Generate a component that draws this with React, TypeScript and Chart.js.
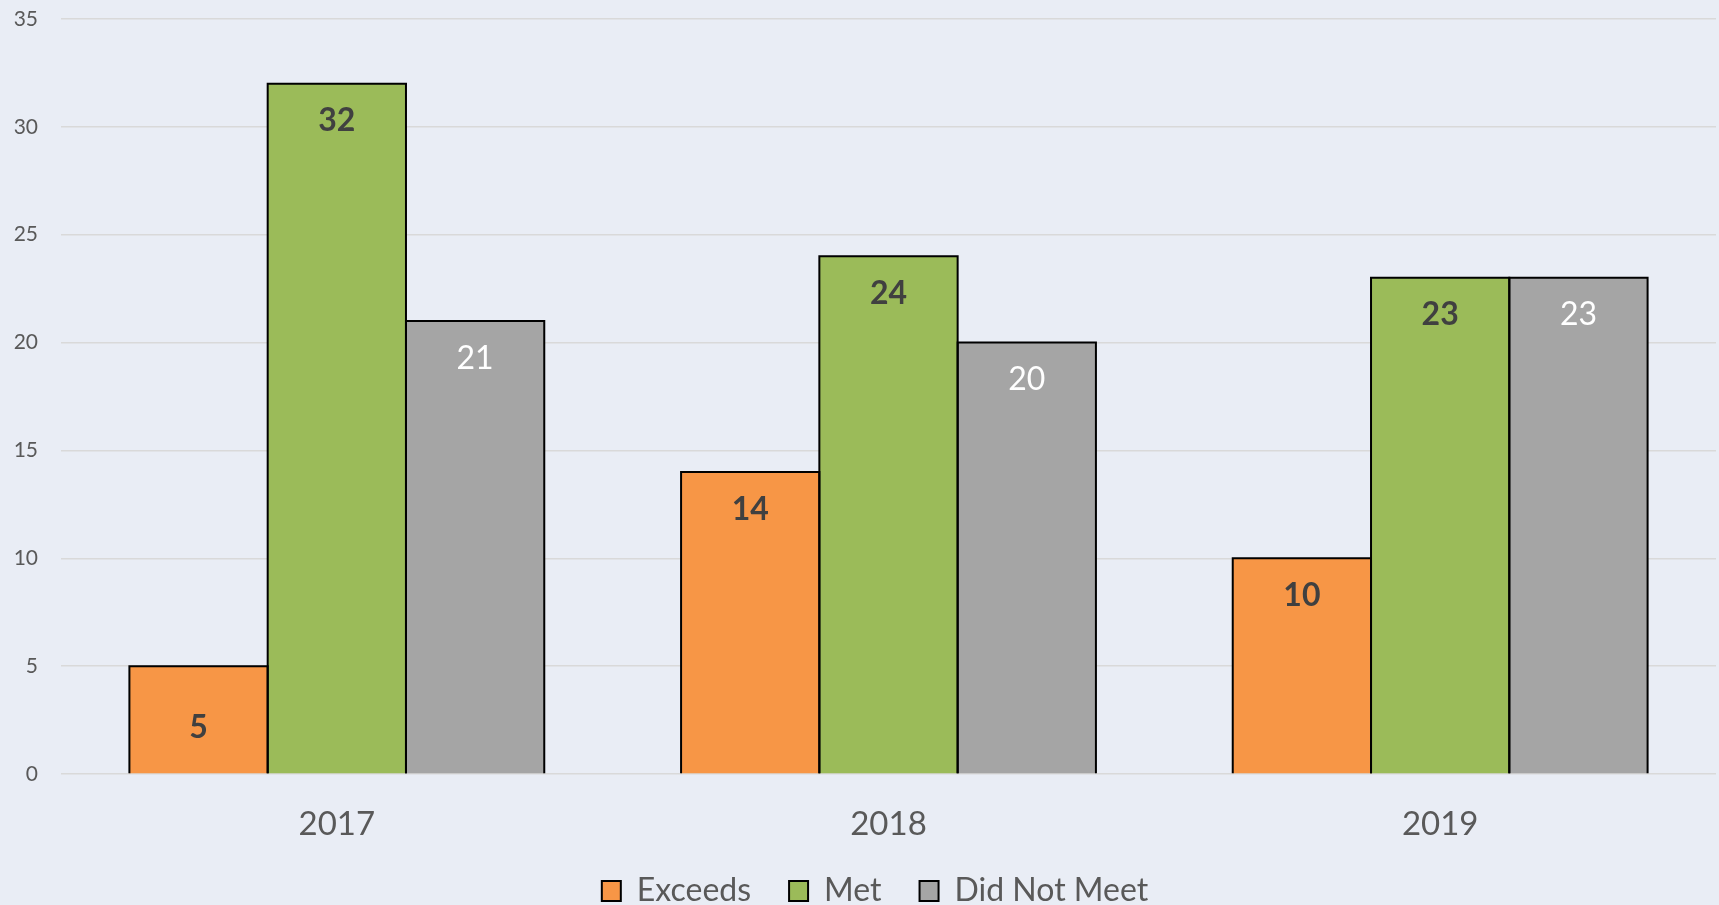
import React, { useEffect, useRef } from "react";
import { Chart, registerables } from "chart.js";

Chart.register(...registerables);

// ---- data ----
const categories = ["2017", "2018", "2019"];
const seriesNames = ["Exceeds", "Met", "Did Not Meet"];
const exceeds = [5, 14, 10];
const met = [32, 24, 23];
const didNotMeet = [21, 20, 23];
const yTicks = [0, 5, 10, 15, 20, 25, 30, 35];

// ---- styles ----
const BG = "#E9EDF5";
const FONT = "Lato, 'Open Sans', sans-serif";
const fills = ["#F79646", "#9BBB59", "#A5A5A5"];
const labelColors = ["#404040", "#404040", "#FFFFFF"];
const labelWeights = ["bold", "bold", "normal"];
const W = 1719;
const H = 922;

const barDecor = {
  id: "barDecor",
  afterLayout(chart: any) {
    if (chart.legend) {
      chart.legend.left += 17;
      chart.legend.right += 17;
    }
  },
  afterDatasetsDraw(chart: any) {
    const ctx = chart.ctx;
    ctx.save();
    ctx.strokeStyle = "#000000";
    ctx.lineWidth = 2;
    ctx.lineJoin = "miter";
    chart.data.datasets.forEach((_ds: any, i: number) => {
      const meta = chart.getDatasetMeta(i);
      meta.data.forEach((bar: any) => {
        const { x, y, base, width } = bar.getProps(["x", "y", "base", "width"], true);
        const l = x - width / 2;
        const r = x + width / 2;
        ctx.beginPath();
        ctx.moveTo(l, base);
        ctx.lineTo(l, y);
        ctx.lineTo(r, y);
        ctx.lineTo(r, base);
        ctx.stroke();
      });
    });
    const size = 32;
    const capH = size * 0.72;
    ctx.textAlign = "center";
    ctx.textBaseline = "alphabetic";
    chart.data.datasets.forEach((ds: any, i: number) => {
      const meta = chart.getDatasetMeta(i);
      ctx.fillStyle = labelColors[i];
      ctx.font = `${labelWeights[i]} ${size}px ${FONT}`;
      meta.data.forEach((bar: any, j: number) => {
        const { x, y, base } = bar.getProps(["x", "y", "base"], true);
        const h = base - y;
        const cy = h < 130 ? (y + base) / 2 + 7 : y + 36;
        ctx.fillText(String(ds.data[j]), x, cy + capH / 2);
      });
    });
    ctx.restore();
  },
};

export default function App() {
  const canvasRef = useRef<HTMLCanvasElement | null>(null);

  useEffect(() => {
    document.body.style.margin = "0";
    document.body.style.background = BG;
    const canvas = canvasRef.current;
    if (!canvas) return;
    const values = [exceeds, met, didNotMeet];
    const chart = new Chart(canvas, {
      type: "bar",
      data: {
        labels: categories,
        datasets: seriesNames.map((name, i) => ({
          label: name,
          data: values[i],
          backgroundColor: fills[i],
          borderWidth: 0,
          barPercentage: 1,
          categoryPercentage: 0.752,
        })),
      },
      options: {
        animation: false,
        responsive: false,
        devicePixelRatio: 1,
        layout: { padding: { left: 0, right: 3, top: 19, bottom: 5 } },
        plugins: {
          tooltip: { enabled: false },
          legend: {
            position: "bottom",
            labels: {
              color: "#595959",
              font: { family: FONT, size: 32 },
              boxWidth: 19,
              boxHeight: 20,
              padding: 38,
              generateLabels(chart: any) {
                const items = Chart.defaults.plugins.legend.labels.generateLabels(chart);
                return items.map((it: any) => ({ ...it, lineWidth: 2, strokeStyle: "#000000" }));
              },
            },
          },
        },
        scales: {
          x: {
            grid: { display: false, drawTicks: false },
            border: { display: false },
            ticks: {
              color: "#595959",
              font: { family: FONT, size: 33 },
              padding: 31,
            },
            afterFit(scale: any) {
              scale.height = 63;
            },
          },
          y: {
            min: 0,
            max: 35,
            afterBuildTicks(scale: any) {
              scale.ticks = yTicks.map((v) => ({ value: v }));
            },
            grid: {
              color: "#D9D9D9",
              lineWidth: 1.5,
              drawTicks: true,
              tickLength: 23,
              tickColor: "rgba(0,0,0,0)",
            },
            border: { display: false },
            ticks: {
              color: "#595959",
              font: { family: FONT, size: 21 },
              padding: 0,
            },
            afterFit(scale: any) {
              scale.width = 61;
            },
          },
        },
      },
      plugins: [barDecor],
    });
    return () => chart.destroy();
  }, []);

  return (
    <div
      style={{
        position: "fixed",
        left: 0,
        top: 0,
        width: W,
        height: 905,
        overflow: "hidden",
        background: BG,
      }}
    >
      <canvas
        ref={canvasRef}
        width={W}
        height={H}
        style={{ display: "block", width: W, height: H }}
      />
    </div>
  );
}
